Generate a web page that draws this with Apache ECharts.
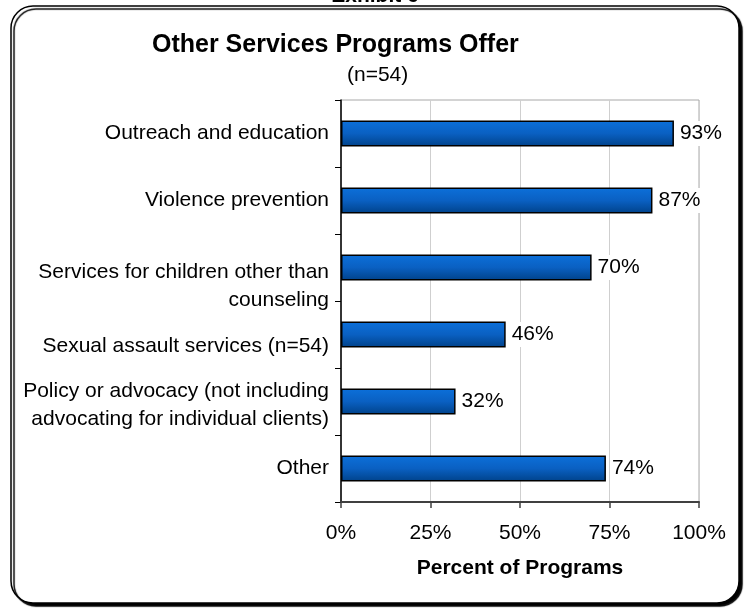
<!DOCTYPE html>
<html>
<head>
<meta charset="utf-8">
<script src="https://cdn.jsdelivr.net/npm/echarts@6/dist/echarts.min.js"></script>
<style>
  html, body { margin: 0; padding: 0; background: #fff; }
  #chart { width: 749px; height: 609px; }
</style>
</head>
<body>
<div id="chart"></div>
<script>
// Service categories, top to bottom
const categories = [
  'Outreach and education',
  'Violence prevention',
  'Services for children other than\ncounseling',
  'Sexual assault services (n=54)',
  'Policy or advocacy (not including\nadvocating for individual clients)',
  'Other'
];
// Share of programs offering each service (%)
const percents = [93, 87, 70, 46, 32, 74];
// Percent axis ticks
const xTicks = [0, 25, 50, 75, 100];

// Vertical nudge (px) for some wrapped category labels
const labelShift = { 2: 19, 3: 12, 4: 4 };

const FONT = '"Liberation Sans", Arial, sans-serif';
const LINE_H = 28;
const chart = echarts.init(document.getElementById('chart'), null, { renderer: 'canvas' });

// First line of a shifted label carries extra top padding (and matching line height)
const rich = {};
Object.keys(labelShift).forEach(k => {
  const p = labelShift[k] * 2;
  rich['p' + k] = { padding: [p, 0, 0, 0], fontSize: 21, fontFamily: FONT, color: '#000', lineHeight: LINE_H + p, align: 'right' };
  rich['q' + k] = { fontSize: 21, fontFamily: FONT, color: '#000', lineHeight: LINE_H, align: 'right' };
});

chart.setOption({
  animation: false,
  backgroundColor: '#fff',
  graphic: [
    {
      type: 'rect', z: -10,
      shape: { x: 11, y: 6, width: 728, height: 597, r: 22 },
      style: { fill: '#fff', stroke: '#000', lineWidth: 1.5, shadowColor: '#000', shadowOffsetX: 3, shadowOffsetY: 3, shadowBlur: 1 }
    },
    {
      type: 'text', z: 5, x: 375, y: 7,
      style: { text: 'Exhibit 6', font: 'bold 21px ' + FONT, fill: '#000', align: 'center', verticalAlign: 'bottom' }
    }
  ],
  title: [
    { text: 'Other Services Programs Offer', left: 152, top: 33,
      textStyle: { fontSize: 25, fontWeight: 'bold', fontFamily: FONT, color: '#000' }, padding: 0 },
    { text: '(n=54)', left: 347, top: 65,
      textStyle: { fontSize: 21, fontWeight: 'normal', fontFamily: FONT, color: '#000' }, padding: 0 }
  ],
  grid: { left: 341, right: 50, top: 100, bottom: 107, show: true, borderColor: '#a8a8a8', borderWidth: 1, containLabel: false },
  xAxis: {
    type: 'value', min: xTicks[0], max: xTicks[xTicks.length - 1], interval: xTicks[1] - xTicks[0],
    axisLine: { show: true, lineStyle: { color: '#404040', width: 2 } },
    axisTick: { show: true, length: 6, lineStyle: { color: '#404040', width: 1.5 } },
    axisLabel: { formatter: v => v + '%', fontSize: 21, fontFamily: FONT, color: '#000', margin: 21 },
    splitLine: { show: true, lineStyle: { color: '#cfcfcf', width: 1 } },
    name: 'Percent of Programs', nameLocation: 'middle', nameGap: 56,
    nameTextStyle: { fontSize: 21, fontWeight: 'bold', fontFamily: FONT, color: '#000' }
  },
  yAxis: {
    type: 'category', data: categories, inverse: true,
    axisLine: { show: true, lineStyle: { color: '#000', width: 1.5 } },
    axisTick: { show: true, inside: false, length: 6, lineStyle: { color: '#000', width: 1 } },
    axisLabel: {
      fontSize: 21, fontFamily: FONT, color: '#000', margin: 12, lineHeight: LINE_H, align: 'right',
      formatter: (value, idx) => {
        if (labelShift[idx] === undefined) return value;
        const lines = value.split('\n');
        return lines.map((ln, i) => '{' + (i === 0 ? 'p' : 'q') + idx + '|' + ln + '}').join('\n');
      },
      rich: rich
    },
    splitLine: { show: false }
  },
  series: [{
    type: 'bar', data: percents, barWidth: 26,
    itemStyle: {
      color: new echarts.graphic.LinearGradient(0, 0, 0, 1, [
        { offset: 0, color: '#0c70da' },
        { offset: 0.5, color: '#0a60c2' },
        { offset: 1, color: '#00428a' }
      ]),
      borderColor: '#000', borderWidth: 1.5
    },
    label: {
      show: true, position: 'right', distance: 5, formatter: '{c}%',
      fontSize: 21, fontFamily: FONT, color: '#000', backgroundColor: '#fff', padding: [2, 2, 2, 1]
    }
  }]
});
</script>
</body>
</html>
